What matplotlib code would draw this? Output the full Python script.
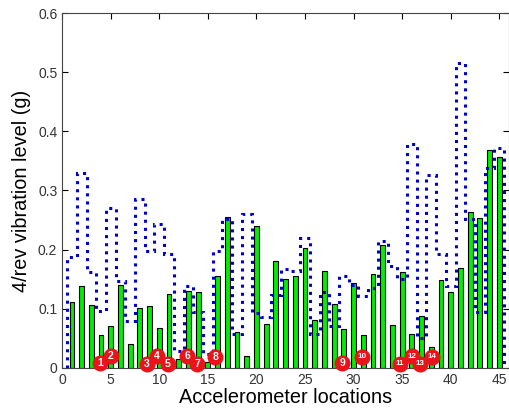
import numpy as np
import matplotlib
matplotlib.use("Agg")
import matplotlib.pyplot as plt

plt.rcParams['font.family'] = ['Liberation Sans', 'DejaVu Sans']

# measured 4/rev vibration level per accelerometer location (green bars)
locations = np.arange(1, 46)
measured = [0.112, 0.138, 0.106, 0.055, 0.071, 0.141, 0.040, 0.102, 0.105, 0.067,
            0.125, 0.016, 0.130, 0.128, 0.010, 0.156, 0.255, 0.060, 0.020, 0.240,
            0.075, 0.181, 0.151, 0.155, 0.202, 0.081, 0.164, 0.108, 0.066, 0.143,
            0.055, 0.159, 0.208, 0.072, 0.162, 0.057, 0.088, 0.036, 0.149, 0.128,
            0.169, 0.264, 0.254, 0.369, 0.356]

# baseline level (dotted step line)
baseline = [0.187, 0.329, 0.162, 0.097, 0.270, 0.147, 0.080, 0.285, 0.198, 0.244,
            0.193, 0.029, 0.139, 0.094, 0.024, 0.198, 0.251, 0.057, 0.260, 0.093,
            0.087, 0.124, 0.168, 0.164, 0.220, 0.057, 0.128, 0.071, 0.156, 0.141,
            0.122, 0.135, 0.214, 0.172, 0.150, 0.379, 0.050, 0.326, 0.193, 0.138,
            0.516, 0.251, 0.095, 0.338, 0.371]

# numbered markers
marker_labels = ['1', '2', '3', '4', '5', '6', '7', '8', '9', '10', '11', '12', '13', '14']
marker_x = [3.87, 5.0, 8.73, 9.76, 10.88, 12.88, 13.9, 15.78, 28.85, 30.84, 34.74, 35.97, 36.8, 38.1]
marker_y = [0.008, 0.020, 0.007, 0.020, 0.007, 0.020, 0.007, 0.019, 0.008, 0.019, 0.007, 0.020, 0.007, 0.019]

fig = plt.figure(figsize=(5.1, 4.13), dpi=100)
ax = fig.add_axes([0.122, 0.109, 0.876, 0.8595])

ax.bar(locations, measured, width=0.5, color='#00ee00', edgecolor='black', linewidth=0.8, zorder=2)
ax.stairs(baseline, np.arange(0.5, 46.5), baseline=0, color='#0000cc', linestyle=':', linewidth=2.2, zorder=3)

for lab, x, y in zip(marker_labels, marker_x, marker_y):
    ax.plot(x, y, 'o', markersize=10.5, color='#e8141a', markeredgecolor='#e8141a', zorder=5, clip_on=False)
    fs = 7.5 if len(lab) == 1 else 5.8
    ax.text(x, y, lab, color='white', fontsize=fs, fontweight='bold', ha='center', va='center',
            zorder=6, clip_on=False)

ax.set_xlim(0, 46)
ax.set_ylim(0, 0.6)
ax.set_xticks(np.arange(0, 46, 5))
ax.set_yticks(np.arange(0, 0.61, 0.1))
ax.set_yticklabels(['0', '0.1', '0.2', '0.3', '0.4', '0.5', '0.6'])
ax.tick_params(direction='in', top=True, right=True, labelsize=10, labelcolor='#333333', length=4)
for s in ax.spines.values():
    s.set_color('#444444')
ax.set_xlabel('Accelerometer locations', fontsize=14.3, labelpad=1)
ax.set_ylabel('4/rev vibration level (g)', fontsize=14.3, labelpad=5)

fig.savefig('out.png', dpi=100)
